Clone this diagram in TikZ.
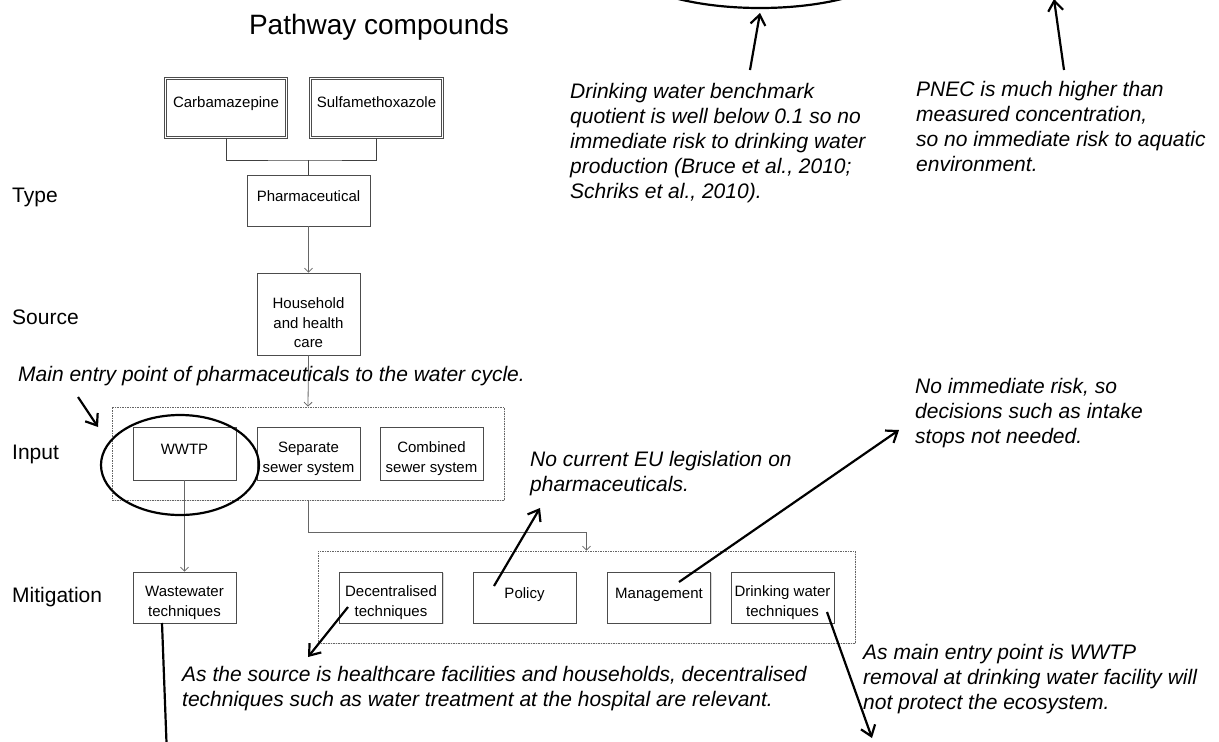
\documentclass[tikz,border=0pt]{standalone}
\usepackage{fontspec}
\setmainfont{Liberation Sans}
\usetikzlibrary{arrows.meta,shadows}
\newcommand{\topgap}[1]{\rule{0pt}{#1}}

\begin{document}
\begin{tikzpicture}[
    x=1pt, y=-1pt,
    box/.style={draw=black!70, fill=white, line width=0.6pt, align=center,
        font=\fontsize{15}{19.5}\selectfont, inner sep=1pt,
        minimum width=103pt, minimum height=51pt,
        drop shadow={shadow xshift=1.2pt, shadow yshift=-1.2pt, opacity=0.3}},
    single/.style={text height=11pt, text depth=9pt},
    compound/.style={box, double=white, double distance=1.4pt,
        minimum width=121pt, minimum height=59pt, text height=11pt, text depth=13pt},
    group/.style={draw=black!60, fill=white, line width=0.6pt,
        dash pattern=on 1.5pt off 1pt,
        drop shadow={shadow xshift=1.2pt, shadow yshift=-1.2pt, opacity=0.2}},
    level/.style={anchor=base west, font=\fontsize{21}{25}\selectfont, inner sep=0pt},
    note/.style={anchor=north west, align=left,
        font=\fontsize{21}{25}\selectfont\itshape, inner sep=0pt},
    tree/.style={draw=black!75, line width=1pt},
    flow/.style={draw=black!60, line width=0.8pt, -{Straight Barb[length=4pt,width=8pt]}},
    pointer/.style={line width=2.2pt, -{Straight Barb[length=10pt,width=15pt]}},
    ring/.style={line width=2.2pt}
]
    \fill[white] (0,0) rectangle (1219,742);
    \useasboundingbox (0,0) rectangle (1219,742);

    % Title and levels
    \node[font=\fontsize{28}{32}\selectfont] (title) at (379,27) {Pathway compounds};
    \node[level] (ltype) at (12,202.5) {Type};
    \node[level] (lsource) at (12,324.5) {Source};
    \node[level] (linput) at (12,459.5) {Input};
    \node[level] (lmitig) at (12,602.5) {Mitigation};

    % Groups
    \node[group, minimum width=392pt, minimum height=93pt] (inputs) at (308,453.5) {};
    \node[group, minimum width=537pt, minimum height=92pt] (mitig) at (586.5,597) {};

    % Compounds
    \node[compound] (carb) at (226,108) {Carbamazepine};
    \node[compound, minimum width=132pt] (sulfa) at (376.5,108) {Sulfamethoxazole};

    % Type and source
    \node[box, single, minimum width=123pt] (pharma) at (308.5,200.5) {Pharmaceutical};
    \node[box, minimum height=82pt] (house) at (308.5,314) {\topgap{29pt}Household\\and health\\care};

    % Input
    \node[box, single, minimum height=53pt] (wwtp) at (184.5,453.5) {WWTP};
    \node[box, minimum height=53pt] (sep) at (308.5,453.5) {\topgap{21pt}Separate\\sewer system};
    \node[box, minimum height=53pt] (comb) at (431.5,453.5) {\topgap{21pt}Combined\\sewer system};

    % Mitigation
    \node[box] (waste) at (184.5,597.5) {\topgap{21pt}Wastewater\\techniques};
    \node[box] (dec) at (391,597.5) {\topgap{21pt}Decentralised\\techniques};
    \node[box, single] (pol) at (524.5,597.5) {Policy};
    \node[box, single] (man) at (659,597.5) {Management};
    \node[box] (dwt) at (782.5,597.5) {\topgap{21pt}Drinking water\\techniques};

    % Connectors
    \coordinate (join) at (308.5,160);
    \draw[tree] (carb.south) |- (join) -| (sulfa.south);
    \draw[tree] (join) -- (pharma.north);
    \draw[flow] (pharma.south) -- (house.north);
    \draw[flow] (house.south) -- (inputs.north);
    \draw[flow] (wwtp.south) -- (waste.north);
    \draw[flow] (inputs.south) -- ++(0,32) -| (mitig.north);

    % Rings
    \draw[ring] (760,-40) ellipse [x radius=140, y radius=48];
    \draw[ring] (180,465) ellipse [x radius=79, y radius=50];

    % Notes
    \node[note] (drink) at (570,83) {Drinking water benchmark\\quotient is well below 0.1 so no\\immediate risk to drinking water\\production (Bruce et al., 2010;\\Schriks et al., 2010).};
    \node[note] (pnec) at (916,81) {PNEC is much higher than\\measured concentration,\\so no immediate risk to aquatic\\environment.};
    \node[note] (entry) at (18,366) {Main entry point of pharmaceuticals to the water cycle.};
    \node[note] (eu) at (530,451) {No current EU legislation on\\pharmaceuticals.};
    \node[note] (risk) at (915,378) {No immediate risk, so\\decisions such as intake\\stops not needed.};
    \node[note] (src) at (182,666) {As the source is healthcare facilities and households, decentralised\\techniques such as water treatment at the hospital are relevant.};
    \node[note] (rem) at (863,644) {As main entry point is WWTP\\removal at drinking water facility will\\not protect the ecosystem.};

    % Pointers
    \coordinate (a1) at (750,70);   \coordinate (b1) at (760,13);
    \coordinate (a2) at (1064,70);  \coordinate (b2) at (1054,-1);
    \coordinate (a3) at (78,397);   \coordinate (b3) at (98,427);
    \coordinate (a4) at (494,586);  \coordinate (b4) at (540,508);
    \coordinate (a5) at (679,582);  \coordinate (b5) at (899,430);
    \coordinate (a6) at (348,607);  \coordinate (b6) at (308,657);
    \coordinate (a7) at (827,612);  \coordinate (b7) at (872,738);
    \coordinate (a8) at (162,623);  \coordinate (b8) at (167,756);
    \foreach \i in {1,...,8}
        \draw[pointer] (a\i) -- (b\i);
\end{tikzpicture}
\end{document}
